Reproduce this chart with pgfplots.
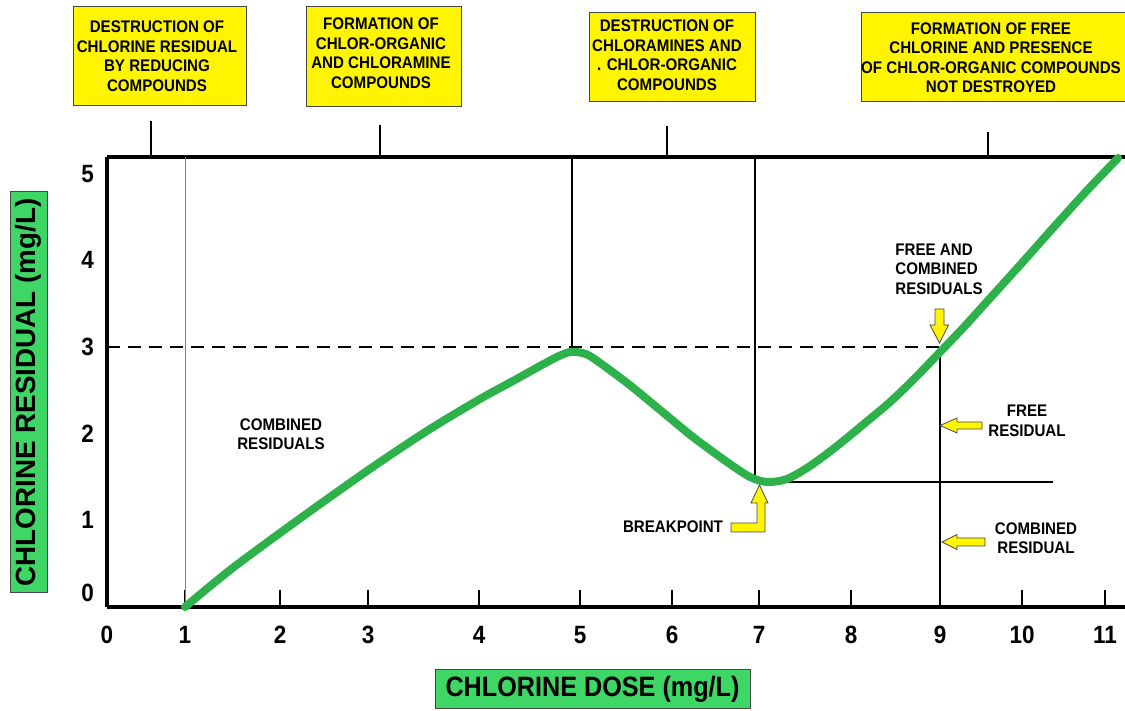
\documentclass[border=0pt]{standalone}
\usepackage{pgfplots}
\pgfplotsset{compat=1.18}
\usepackage{fontspec}
\setmainfont{Liberation Sans}
\newfontfamily\narrow[FakeStretch=0.9]{Liberation Sans}
\definecolor{curvegreen}{RGB}{45,178,75}
\definecolor{boxgreen}{RGB}{62,214,100}
\definecolor{boxyellow}{RGB}{255,245,0}
\definecolor{edgegray}{RGB}{70,70,70}
\begin{document}
\begin{tikzpicture}
\useasboundingbox (0,0) rectangle (562.5pt,355.5pt);
\begin{axis}[
  at={(53.5pt,52pt)}, anchor=south west,
  scale only axis, width=509pt, height=225pt,
  x coord trafo/.code={\pgfmathparse{#1<1 ? 107+78*#1 : (#1<2 ? 185+95*(#1-1) : (#1<3 ? 280+88*(#1-2) : (#1<4 ? 368+111*(#1-3) : (#1<5 ? 479+101*(#1-4) : (#1<6 ? 580+92*(#1-5) : (#1<7 ? 672+87*(#1-6) : (#1<8 ? 759+92*(#1-7) : (#1<9 ? 851+89*(#1-8) : (#1<10 ? 940+82*(#1-9) : 1022+83*(#1-10))))))))))}},
  xmin=0, xmax=11.24, ymin=0, ymax=5.192,
  axis x line*=box, axis y line*=left,
  axis line style={line width=1.6pt, black},
  xtick={0,1,2,3,4,5,6,7,8,9,10,11},
  xticklabels={0,1,2,3,4,5,6,7,8,9,10,11},
  xtick pos=left, xtick align=inside,
  major tick length=8.5pt,
  x tick style={line width=1.2pt, black},
  ytick={1,2,3,4,5}, y tick style={draw=none},
  extra y ticks={0}, extra y tick labels={0},
  extra y tick style={y tick style={draw=none}, yticklabel style={yshift=7pt}},
  /pgf/number format/assume math mode=true,
  tick label style={font=\narrow\bfseries\fontsize{12.5}{14}\selectfont},
  xticklabel style={yshift=-6pt},
  yticklabel style={xshift=-3pt},
  clip=false,
]
% reference lines
\addplot[forget plot, gray, line width=0.5pt] coordinates {(1,0) (1,5.192)};
\addplot[forget plot, black, line width=1.4pt, dash pattern=on 6.5pt off 4pt] coordinates {(0,3) (9.0,3)};
\addplot[forget plot, black, line width=1.3pt] coordinates {(4.921,3) (4.921,5.192)};
\addplot[forget plot, black, line width=1.3pt] coordinates {(6.954,1.488) (6.954,5.192)};
\addplot[forget plot, black, line width=1.3pt] coordinates {(9.0,0) (9.0,2.99)};
\addplot[forget plot, black, line width=1.3pt] coordinates {(7.01,1.442) (10.373,1.442)};
% breakpoint chlorination curve
\addplot[smooth, curvegreen, line width=4pt, line cap=round] coordinates {
(1.0,0) (1.474,0.427) (2.0,0.854) (2.568,1.269) (3.108,1.673) (3.559,2.054)
(4.01,2.400) (4.337,2.608) (4.604,2.781) (4.772,2.885) (4.901,2.942) (5.022,2.931)
(5.141,2.873) (5.511,2.585) (5.870,2.273) (6.241,1.961) (6.632,1.673) (6.897,1.500)
(7.087,1.442) (7.304,1.477) (7.554,1.627) (7.848,1.858) (8.157,2.123) (8.438,2.365)
(8.719,2.642) (9.0,2.942) (9.280,3.219) (9.573,3.525) (9.976,3.946) (10.373,4.373)
(10.783,4.806) (11.157,5.181)};
\end{axis}
\begin{scope}[shift={(0pt,355.5pt)}, x=0.5pt, y=-0.5pt]
  % ticks linking boxes to axis
  \draw[line width=1.2pt] (151,121) -- (151,157);
  \draw[line width=1.2pt] (380,125) -- (380,157);
  \draw[line width=1.2pt] (667,126) -- (667,157);
  \draw[line width=1.2pt] (988,132) -- (988,157);
  % yellow boxes
  \tikzset{ybox/.style={fill=boxyellow, draw=edgegray, line width=0.5pt},
           btxt/.style={align=center, inner sep=0pt, font=\narrow\bfseries\fontsize{8.4pt}{9.75pt}\selectfont}}
  \draw[ybox] (73,7) rectangle (246,106);
  \node[btxt] at (157,56) {DESTRUCTION OF\\CHLORINE RESIDUAL\\BY REDUCING\\COMPOUNDS};
  \draw[ybox] (306,7) rectangle (461,107);
  \node[btxt] at (381,53) {FORMATION OF\\CHLOR-ORGANIC\\AND CHLORAMINE\\COMPOUNDS};
  \draw[ybox] (589,13) rectangle (755,102);
  \node[btxt] at (667,55) {DESTRUCTION OF\\CHLORAMINES AND\\. CHLOR-ORGANIC\\COMPOUNDS};
  \draw[ybox] (861,13) rectangle (1135,102);
  \node[btxt] at (991,57.5) {FORMATION OF FREE\\CHLORINE AND PRESENCE\\OF CHLOR-ORGANIC COMPOUNDS\\NOT DESTROYED};
  % annotations
  \node[btxt] at (281,434) {COMBINED\\RESIDUALS};
  \node[btxt] at (673,527) {BREAKPOINT};
  \node[btxt, align=left, anchor=west] at (895,269) {FREE AND\\COMBINED\\RESIDUALS};
  \node[btxt] at (1027,421) {FREE\\RESIDUAL};
  \node[btxt] at (1036,538) {COMBINED\\RESIDUAL};
  % yellow arrows
  \tikzset{yarrow/.style={fill=boxyellow, draw=edgegray, line width=0.4pt, line join=miter}}
  \draw[yarrow] (731,523) -- (757,523) -- (757,503) -- (751,503) -- (759.5,485) -- (768,503) -- (765,503) -- (765,532) -- (731,532) -- cycle;
  \draw[yarrow] (935,309) -- (944,309) -- (944,325) -- (948.5,325) -- (939.5,343) -- (930,325) -- (935,325) -- cycle;
  \draw[yarrow] (940,425.5) -- (957,418) -- (957,422) -- (982,422) -- (982,429) -- (957,429) -- (957,433) -- cycle;
  \draw[yarrow] (942,542) -- (957,534.5) -- (957,538) -- (985,538) -- (985,546) -- (957,546) -- (957,549.5) -- cycle;
  % axis titles
  \node[fill=boxgreen, draw=edgegray, line width=0.5pt, minimum width=157.5pt, minimum height=19.5pt, inner sep=0pt,
        font=\narrow\bfseries\fontsize{14pt}{16pt}\selectfont] at (592.5,689.5) {CHLORINE DOSE (mg/L)};
  \node[rotate=90, fill=boxgreen, draw=edgegray, line width=0.5pt, minimum width=200.5pt, minimum height=18.5pt, inner sep=0pt,
        font=\bfseries\fontsize{13.9pt}{16pt}\selectfont] at (28.5,392.5) {CHLORINE RESIDUAL (mg/L)};
\end{scope}
\end{tikzpicture}
\end{document}
